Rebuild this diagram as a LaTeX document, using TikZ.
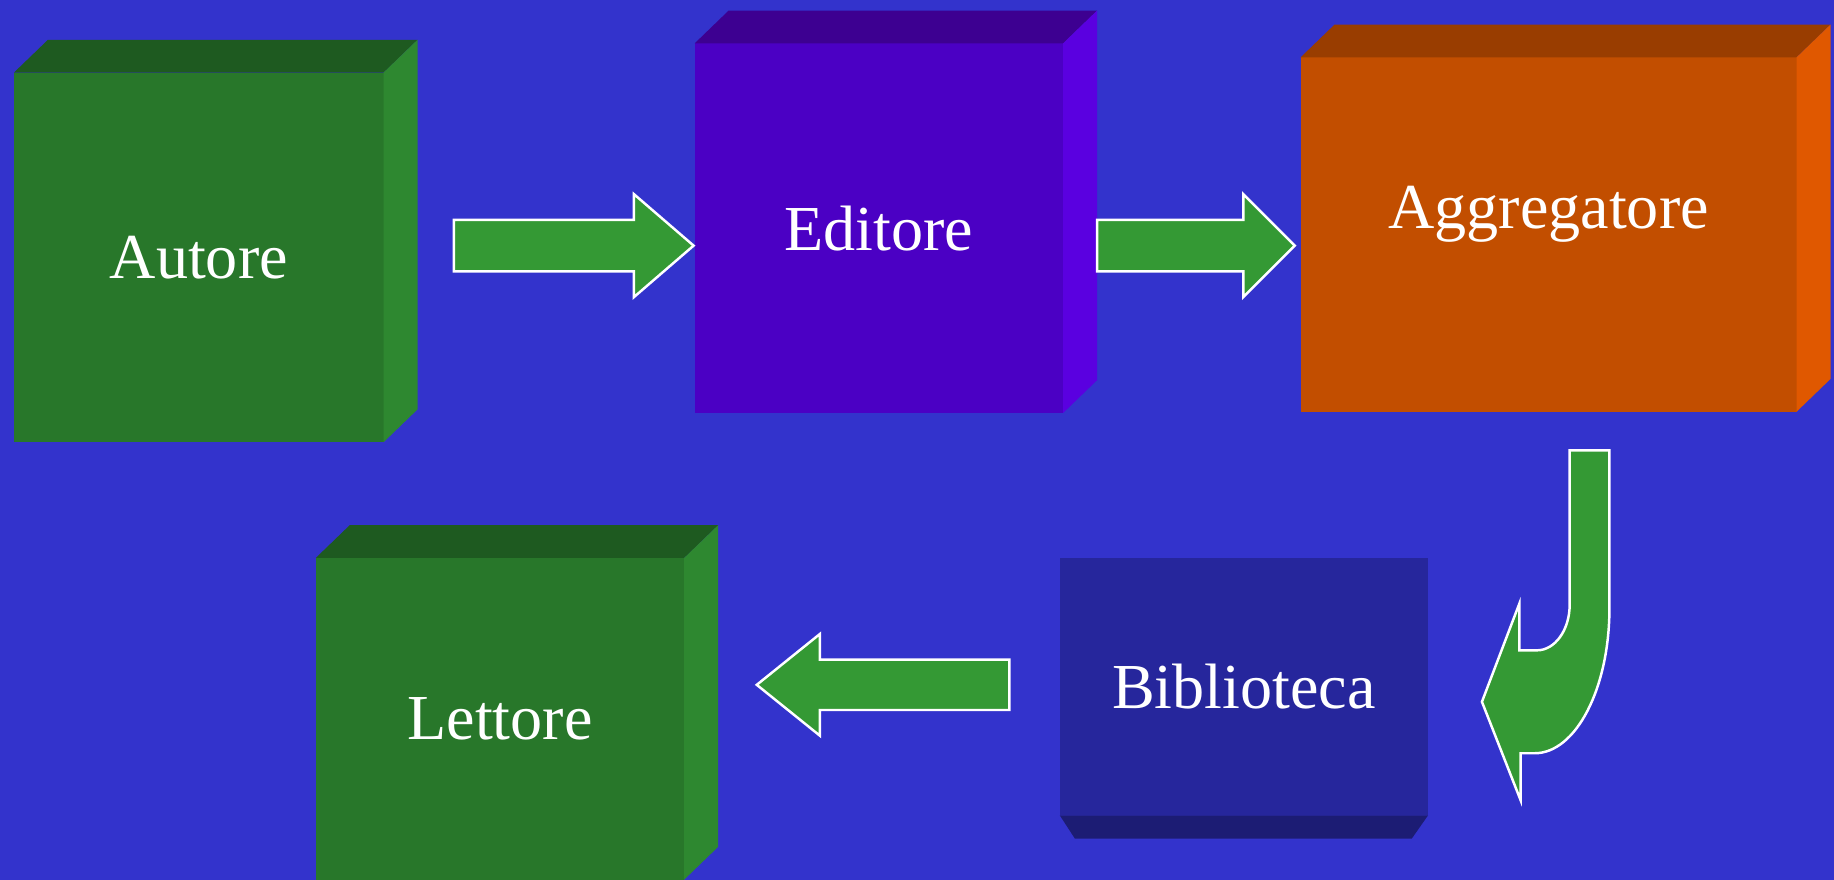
\documentclass[tikz,border=0pt]{standalone}
\usepackage{fontspec}
\setmainfont{Liberation Serif}

\definecolor{sfondo}{RGB}{51,51,204}
\definecolor{verdeF}{RGB}{40,119,42}
\definecolor{verdeT}{RGB}{30,90,32}
\definecolor{verdeS}{RGB}{46,136,48}
\definecolor{violaF}{RGB}{75,0,196}
\definecolor{violaT}{RGB}{61,0,145}
\definecolor{violaS}{RGB}{90,0,224}
\definecolor{aranF}{RGB}{194,78,0}
\definecolor{aranT}{RGB}{153,61,0}
\definecolor{aranS}{RGB}{224,88,0}
\definecolor{bluF}{RGB}{38,38,156}
\definecolor{bluB}{RGB}{28,28,116}
\definecolor{freccia}{RGB}{52,153,52}

\begin{document}
\begin{tikzpicture}[x=0.1mm, y=-0.1mm]
  \tikzstyle{faccia}=[rectangle, inner sep=0pt, outer sep=0pt, text=white,
                      font=\fontsize{15.6pt}{18pt}\selectfont]
  \tikzstyle{frecciona}=[fill=freccia, draw=white, line width=0.6pt, line join=miter]
  \tikzstyle{dietro}=[shift={(29,-28)}]

  \fill[sfondo] (0,0) rectangle (1568,752);
  \useasboundingbox (0,0) rectangle (1568,752);

  % autore
  \node[faccia, fill=verdeF, minimum width=31.6mm, minimum height=31.6mm] (autore) at (170,220) {Autore};
  \fill[verdeT] (autore.north west) -- ([dietro]autore.north west) -- ([dietro]autore.north east) -- (autore.north east) -- cycle;
  \fill[verdeS] (autore.north east) -- ([dietro]autore.north east) -- ([dietro]autore.south east) -- (autore.south east) -- cycle;

  % editore
  \node[faccia, fill=violaF, minimum width=31.5mm, minimum height=31.6mm] (editore) at (751.5,195) {Editore};
  \fill[violaT] (editore.north west) -- ([dietro]editore.north west) -- ([dietro]editore.north east) -- (editore.north east) -- cycle;
  \fill[violaS] (editore.north east) -- ([dietro]editore.north east) -- ([dietro]editore.south east) -- (editore.south east) -- cycle;

  % aggregatore
  \node[faccia, fill=aranF, minimum width=42.4mm, minimum height=30.3mm] (aggregatore) at (1324,200.5) {};
  \node[faccia] (aggtesto) at (1324,183) {Aggregatore};
  \fill[aranT] (aggregatore.north west) -- ([dietro]aggregatore.north west) -- ([dietro]aggregatore.north east) -- (aggregatore.north east) -- cycle;
  \fill[aranS] (aggregatore.north east) -- ([dietro]aggregatore.north east) -- ([dietro]aggregatore.south east) -- (aggregatore.south east) -- cycle;

  % biblioteca
  \node[faccia, fill=bluF, minimum width=31.5mm, minimum height=22mm] (biblioteca) at (1063.5,587) {Biblioteca};
  \fill[bluB] (biblioteca.south west) -- ([shift={(13,20)}]biblioteca.south west) -- ([shift={(-14,20)}]biblioteca.south east) -- (biblioteca.south east) -- cycle;

  % lettore
  \node[faccia, fill=verdeF, minimum width=31.5mm, minimum height=27.5mm] (lettore) at (427.5,614.5) {Lettore};
  \fill[verdeT] (lettore.north west) -- ([dietro]lettore.north west) -- ([dietro]lettore.north east) -- (lettore.north east) -- cycle;
  \fill[verdeS] (lettore.north east) -- ([dietro]lettore.north east) -- ([dietro]lettore.south east) -- (lettore.south east) -- cycle;

  % frecce
  \coordinate (f1) at (388,210);
  \draw[frecciona] (f1) ++(0,-22) -- ++(154,0) -- ++(0,-22) -- ++(51,44) -- ++(-51,44) -- ++(0,-22) -- ++(-154,0) -- cycle;
  \coordinate (f2) at (938,210);
  \draw[frecciona] (f2) ++(0,-22) -- ++(125,0) -- ++(0,-22) -- ++(44,44) -- ++(-44,44) -- ++(0,-22) -- ++(-125,0) -- cycle;
  \coordinate (f3) at (863,585.5);
  \draw[frecciona] (f3) ++(0,-21.5) -- ++(-162,0) -- ++(0,-22) -- ++(-54,43.5) -- ++(54,43.5) -- ++(0,-22) -- ++(162,0) -- cycle;
  \coordinate (f4) at (1342,385);
  \draw[frecciona] (f4) -- (1376,385) -- (1376,520)
     .. controls (1376,588.5) and (1347.3,644) .. (1312,644)
     -- (1300,644) -- (1300,684) -- (1267,600) -- (1299,516) -- (1299,556) -- (1314,556)
     .. controls (1329.5,556) and (1342,538.5) .. (1342,517) -- cycle;
\end{tikzpicture}
\end{document}
